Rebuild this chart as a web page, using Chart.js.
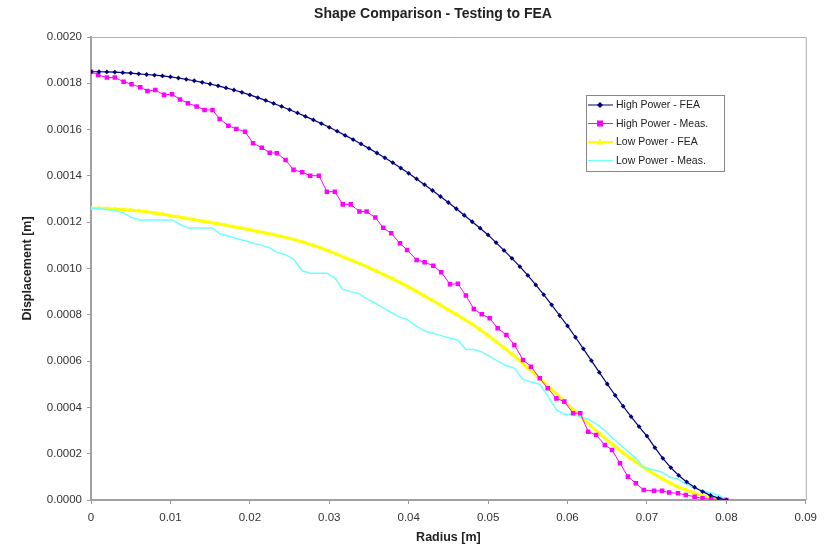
<!DOCTYPE html>
<html>
<head>
<meta charset="utf-8">
<title>Shape Comparison - Testing to FEA</title>
<script src="https://cdn.jsdelivr.net/npm/chart.js@4.4.0/dist/chart.umd.min.js"></script>
<style>
    body { margin: 0; background: #fff; }
    #chart { display: block; }
</style>
</head>
<body>
<canvas id="chart" width="824" height="548"></canvas>
<script>
// radius of the FEA nodes [m]
var feaRadius = [0, 0.001, 0.002, 0.003, 0.004, 0.005, 0.006, 0.007, 0.008, 0.009,
    0.010, 0.011, 0.012, 0.013, 0.014, 0.015, 0.016, 0.017, 0.018, 0.019,
    0.020, 0.021, 0.022, 0.023, 0.024, 0.025, 0.026, 0.027, 0.028, 0.029,
    0.030, 0.031, 0.032, 0.033, 0.034, 0.035, 0.036, 0.037, 0.038, 0.039,
    0.040, 0.041, 0.042, 0.043, 0.044, 0.045, 0.046, 0.047, 0.048, 0.049,
    0.050, 0.051, 0.052, 0.053, 0.054, 0.055, 0.056, 0.057, 0.058, 0.059,
    0.060, 0.061, 0.062, 0.063, 0.064, 0.065, 0.066, 0.067, 0.068, 0.069,
    0.070, 0.071, 0.072, 0.073, 0.074, 0.075, 0.076, 0.077, 0.078, 0.079, 0.080];

var highFea = [0.001850, 0.001850, 0.001849, 0.001848, 0.001846, 0.001844, 0.001841, 0.001838, 0.001835, 0.001832,
    0.001828, 0.001823, 0.001817, 0.001811, 0.001804, 0.001797, 0.001789, 0.001780, 0.001771, 0.001761,
    0.001750, 0.001738, 0.001726, 0.001713, 0.001700, 0.001686, 0.001672, 0.001657, 0.001642, 0.001626,
    0.001610, 0.001593, 0.001575, 0.001557, 0.001538, 0.001519, 0.001499, 0.001478, 0.001457, 0.001434,
    0.001411, 0.001387, 0.001362, 0.001337, 0.001311, 0.001285, 0.001258, 0.001230, 0.001202, 0.001174,
    0.001145, 0.001112, 0.001078, 0.001044, 0.001008, 0.000970, 0.000929, 0.000887, 0.000843, 0.000797,
    0.000752, 0.000703, 0.000653, 0.000602, 0.000551, 0.000501, 0.000452, 0.000405, 0.000360, 0.000317,
    0.000276, 0.000226, 0.000180, 0.000140, 0.000106, 0.000078, 0.000055, 0.000036, 0.000020, 0.000008, 0];

var lowFea = [0.001260, 0.001260, 0.001259, 0.001257, 0.001255, 0.001252, 0.001249, 0.001245, 0.001240, 0.001235,
    0.001228, 0.001223, 0.001217, 0.001211, 0.001205, 0.001199, 0.001193, 0.001187, 0.001180, 0.001174,
    0.001167, 0.001160, 0.001153, 0.001146, 0.001138, 0.001130, 0.001121, 0.001111, 0.001100, 0.001088,
    0.001075, 0.001061, 0.001047, 0.001033, 0.001019, 0.001004, 0.000988, 0.000972, 0.000955, 0.000938,
    0.000920, 0.000901, 0.000882, 0.000862, 0.000842, 0.000822, 0.000802, 0.000781, 0.000759, 0.000736,
    0.000711, 0.000685, 0.000658, 0.000630, 0.000601, 0.000571, 0.000540, 0.000509, 0.000477, 0.000445,
    0.000413, 0.000381, 0.000349, 0.000318, 0.000288, 0.000259, 0.000231, 0.000204, 0.000178, 0.000154,
    0.000131, 0.000110, 0.000090, 0.000072, 0.000056, 0.000042, 0.000030, 0.000019, 0.000010, 0.000004, 0];

// radius of the measurement points [m]
var measRadius = [0, 0.0009, 0.0020, 0.0030, 0.0041, 0.0051, 0.0062, 0.0071, 0.0081, 0.0092,
    0.0102, 0.0112, 0.0122, 0.0133, 0.0143, 0.0153, 0.0162, 0.0173, 0.0183, 0.0194,
    0.0204, 0.0215, 0.0225, 0.0234, 0.0245, 0.0255, 0.0266, 0.0276, 0.0287, 0.0297,
    0.0307, 0.0317, 0.0327, 0.0338, 0.0347, 0.0358, 0.0368, 0.0378, 0.0389, 0.0398,
    0.0410, 0.0420, 0.0431, 0.0441, 0.0452, 0.0462, 0.0472, 0.0482, 0.0492, 0.0502,
    0.0512, 0.0523, 0.0533, 0.0544, 0.0554, 0.0565, 0.0575, 0.0586, 0.0596, 0.0607,
    0.0616, 0.0626, 0.0636, 0.0647, 0.0656, 0.0666, 0.0676, 0.0686, 0.0696, 0.0709,
    0.0719, 0.0728, 0.0739, 0.0749, 0.0760, 0.0770, 0.0781, 0.0791, 0.0800];

var highMeas = [0.001850, 0.001836, 0.001825, 0.001825, 0.001807, 0.001796, 0.001783, 0.001767, 0.001771, 0.001750,
    0.001753, 0.001730, 0.001714, 0.001700, 0.001685, 0.001685, 0.001646, 0.001617, 0.001603, 0.001591,
    0.001541, 0.001522, 0.001500, 0.001498, 0.001469, 0.001426, 0.001416, 0.001401, 0.001401, 0.001332,
    0.001332, 0.001277, 0.001277, 0.001246, 0.001246, 0.001220, 0.001176, 0.001152, 0.001109, 0.001080,
    0.001037, 0.001027, 0.001012, 0.000984, 0.000932, 0.000934, 0.000883, 0.000825, 0.000802, 0.000785,
    0.000742, 0.000713, 0.000670, 0.000605, 0.000576, 0.000526, 0.000483, 0.000439, 0.000425, 0.000375,
    0.000375, 0.000295, 0.000281, 0.000238, 0.000216, 0.000159, 0.000101, 0.000072, 0.000043, 0.000040,
    0.000040, 0.000032, 0.000029, 0.000022, 0.000014, 0.000007, 0.000003, 0.000003, 0];

var lowMeas = [0.001260, 0.001260, 0.001255, 0.001250, 0.001240, 0.001220, 0.001210, 0.001210, 0.001210, 0.001210,
    0.001210, 0.001190, 0.001175, 0.001175, 0.001175, 0.001175, 0.001150, 0.001140, 0.001130, 0.001120,
    0.001110, 0.001100, 0.001090, 0.001070, 0.001060, 0.001040, 0.000990, 0.000980, 0.000980, 0.000980,
    0.000960, 0.000910, 0.000900, 0.000890, 0.000870, 0.000850, 0.000830, 0.000810, 0.000790, 0.000780,
    0.000750, 0.000730, 0.000720, 0.000710, 0.000700, 0.000690, 0.000650, 0.000650, 0.000640, 0.000620,
    0.000600, 0.000580, 0.000570, 0.000520, 0.000510, 0.000500, 0.000450, 0.000390, 0.000370, 0.000370,
    0.000360, 0.000350, 0.000330, 0.000300, 0.000270, 0.000240, 0.000210, 0.000180, 0.000140, 0.000130,
    0.000120, 0.000100, 0.000090, 0.000070, 0.000050, 0.000040, 0.000030, 0.000020, 0];

var seriesNames = ['High Power - FEA', 'High Power - Meas.', 'Low Power - FEA', 'Low Power - Meas.'];
var seriesColors = ['#000080', '#ff00ff', '#ffff00', '#70ffff'];

var yTicks = { min: 0, max: 0.0020, step: 0.0002 };
var xTicks = { min: 0, max: 0.09, step: 0.01 };

var fontFam = '"Liberation Sans", Arial, sans-serif';

function pairs(xs, ys)
{
    var out = [];
    for (var i = 0; i < xs.length; i++) {
        out.push({ x: xs[i], y: ys[i] });
    }
    return out;
}

// title, plot frame and the boxed legend inside the plot, Excel style
var excelBits = {
    id: 'excelBits',
    afterDraw: function(chart)
    {
        var ctx = chart.ctx;
        var a = chart.chartArea;
        ctx.save();

        ctx.strokeStyle = '#b0b0b0';
        ctx.lineWidth = 1;
        ctx.beginPath();
        ctx.moveTo(a.left, a.top + 0.5);
        ctx.lineTo(a.right + 0.5, a.top + 0.5);
        ctx.lineTo(a.right + 0.5, a.bottom);
        ctx.stroke();

        ctx.fillStyle = '#222';
        ctx.font = 'bold 14px ' + fontFam;
        ctx.textAlign = 'center';
        ctx.textBaseline = 'middle';
        ctx.fillText('Shape Comparison - Testing to FEA', 433, 14);

        // legend box
        var bx = 586, by = 95, bw = 138, bh = 76;
        ctx.fillStyle = '#fff';
        ctx.fillRect(bx, by, bw, bh);
        ctx.strokeStyle = '#888';
        ctx.strokeRect(bx + 0.5, by + 0.5, bw, bh);

        ctx.font = '10.5px ' + fontFam;
        ctx.textAlign = 'left';
        for (var i = 0; i < seriesNames.length; i++) {
            var y = by + 10 + i * 18.5;
            ctx.strokeStyle = seriesColors[i];
            ctx.lineWidth = i == 2 ? 2 : 1;
            ctx.beginPath();
            ctx.moveTo(bx + 2, y);
            ctx.lineTo(bx + 27, y);
            ctx.stroke();
            ctx.fillStyle = seriesColors[i];
            var mx = bx + 14;
            ctx.beginPath();
            if (i == 0) {
                ctx.moveTo(mx, y - 3); ctx.lineTo(mx + 3, y); ctx.lineTo(mx, y + 3); ctx.lineTo(mx - 3, y);
            } else if (i == 1) {
                ctx.rect(mx - 3, y - 3, 6, 6);
            } else if (i == 2) {
                ctx.moveTo(mx, y - 3.5); ctx.lineTo(mx + 3.5, y + 2.5); ctx.lineTo(mx - 3.5, y + 2.5);
            }
            ctx.closePath();
            ctx.fill();
            ctx.fillStyle = '#222';
            ctx.fillText(seriesNames[i], bx + 30, y + 0.5);
        }
        ctx.restore();
    }
};

var ctx = document.getElementById('chart').getContext('2d');
var chart = new Chart(ctx, {
    type: 'line',
    data: {
        datasets: [
            {
                label: seriesNames[0],
                data: pairs(feaRadius, highFea),
                borderColor: seriesColors[0],
                backgroundColor: seriesColors[0],
                borderWidth: 1.2,
                pointStyle: 'rectRot',
                pointRadius: 2.4,
                pointBorderWidth: 0,
                order: 1
            },
            {
                label: seriesNames[1],
                data: pairs(measRadius, highMeas),
                borderColor: seriesColors[1],
                backgroundColor: seriesColors[1],
                borderWidth: 1,
                pointStyle: 'rect',
                pointRadius: 3.2,
                pointBorderWidth: 0,
                order: 2
            },
            {
                label: seriesNames[2],
                data: pairs(feaRadius, lowFea),
                borderColor: seriesColors[2],
                backgroundColor: seriesColors[2],
                borderWidth: 3,
                pointStyle: 'triangle',
                pointRadius: 2.8,
                pointBorderWidth: 0,
                order: 4
            },
            {
                label: seriesNames[3],
                data: pairs(measRadius, lowMeas),
                borderColor: seriesColors[3],
                backgroundColor: seriesColors[3],
                borderWidth: 1.5,
                pointRadius: 0,
                order: 3
            }
        ]
    },
    options: {
        responsive: false,
        animation: false,
        layout: { padding: { top: 37, right: 18, left: 0, bottom: 0 } },
        plugins: {
            legend: { display: false },
            title: { display: false },
            tooltip: { enabled: false }
        },
        scales: {
            x: {
                type: 'linear',
                min: xTicks.min,
                max: xTicks.max,
                afterFit: function(scale) { scale.height = 48; },
                grid: { drawOnChartArea: false, drawTicks: true, tickLength: 4, color: '#999' },
                border: { color: '#a0a0a0', width: 2 },
                ticks: {
                    stepSize: xTicks.step,
                    padding: 7,
                    color: '#333',
                    font: { family: fontFam, size: 11.5 },
                    callback: function(v) { return v == 0 ? '0' : v.toFixed(2); }
                },
                title: {
                    display: true,
                    text: 'Radius [m]',
                    color: '#222',
                    padding: { top: 0, bottom: 3 },
                    font: { family: fontFam, size: 12.5, weight: 'bold' }
                }
            },
            y: {
                min: yTicks.min,
                max: yTicks.max,
                afterFit: function(scale) { scale.width = 91; },
                grid: { drawOnChartArea: false, drawTicks: true, tickLength: 4, color: '#999' },
                border: { color: '#a0a0a0', width: 2 },
                ticks: {
                    stepSize: yTicks.step,
                    padding: 5,
                    color: '#333',
                    font: { family: fontFam, size: 11.5 },
                    callback: function(v) { return v.toFixed(4); }
                },
                title: {
                    display: true,
                    text: 'Displacement [m]',
                    color: '#222',
                    padding: { top: 20, bottom: 0 },
                    font: { family: fontFam, size: 12.5, weight: 'bold' }
                }
            }
        }
    },
    plugins: [excelBits]
});
</script>
</body>
</html>
